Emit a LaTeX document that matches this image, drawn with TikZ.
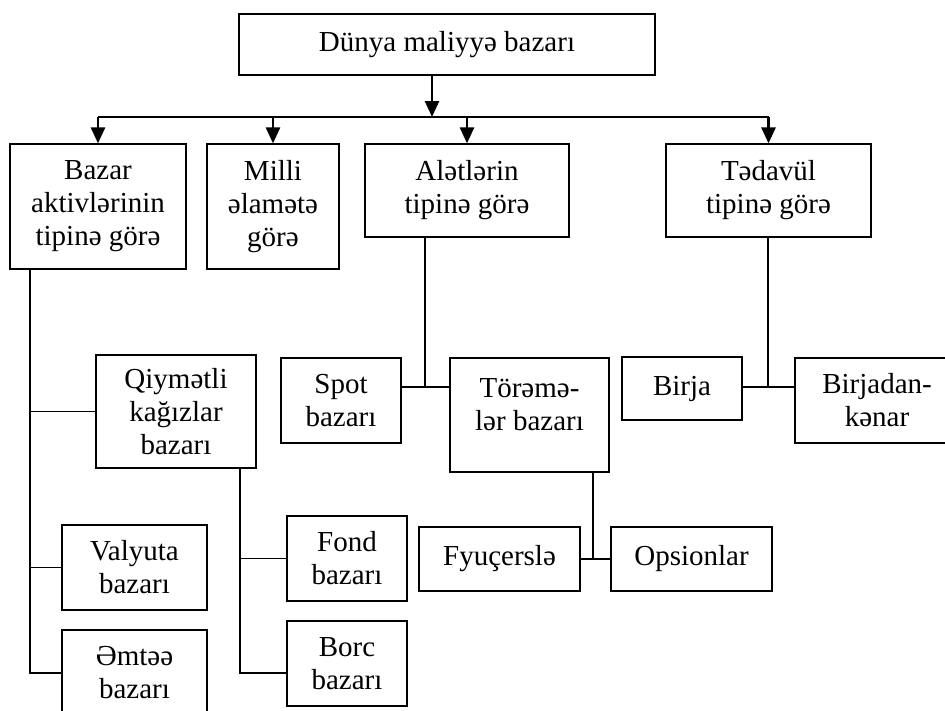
\documentclass[tikz,border=0pt]{standalone}
\usepackage{fontspec}
\setmainfont{Liberation Serif}
\usetikzlibrary{arrows.meta}

\begin{document}
\begin{tikzpicture}[x=1pt, y=-1pt,
  txt/.style={font=\fontsize{29}{33}\selectfont, align=center},
  box/.style={draw, txt, line width=1.2pt, inner sep=0pt},
  link/.style={line width=1.6pt},
  arr/.style={line width=2.6pt, -{Triangle[length=16pt, width=14pt]}}]
\useasboundingbox (0,0) rectangle (945,710);
\node[box, minimum width=416pt, minimum height=61pt] (top) at (447,44.5){Dünya maliyyə bazarı};
\node[box, minimum width=176pt, minimum height=125pt] (aktiv) at (98,206.5){Bazar\\aktivlərinin\\tipinə görə};
\node[box, minimum width=132pt, minimum height=125pt] (milli) at (273,206.5){Milli\\əlamətə\\görə};
\node[box, minimum width=204pt, minimum height=93pt] (alet) at (467,190.5){Alətlərin\\tipinə görə};
\node[box, minimum width=205pt, minimum height=93pt] (tedavul) at (768.5,190.5){Tədavül\\tipinə görə};
\coordinate (hub) at (432,117);
\draw[arr] (top.south -| hub) -- (hub);
\draw[line width=2.6pt] (aktiv.north |- hub) -- (tedavul.north |- hub);
\draw[arr] (aktiv.north |- hub) -- (aktiv.north);
\draw[arr] (milli.north |- hub) -- (milli.north);
\draw[arr] (alet.north |- hub) -- (alet.north);
\draw[arr] (tedavul.north |- hub) -- (tedavul.north);
% bazar aktivleri
\node[box, minimum width=160pt, minimum height=113pt] (qiym) at (176,411.5){Qiymətli\\kağızlar\\bazarı};
\node[box, minimum width=145pt, minimum height=85pt] (valyuta) at (134.5,567.5){Valyuta\\bazarı};
\node[box, minimum width=145pt, minimum height=86pt] (emtee) at (134.5,673){Əmtəə\\bazarı};
\coordinate (la) at (30,672);
\draw[link] (aktiv.south -| la) |- (emtee.west);
\draw[link] (qiym.west -| la) -- (qiym.west);
\draw[link] (valyuta.west -| la) -- (valyuta.west);
\node[box, minimum width=120pt, minimum height=85pt] (fond) at (347,558.5){Fond\\bazarı};
\node[box, minimum width=120pt, minimum height=85pt] (borc) at (347,663.5){Borc\\bazarı};
\coordinate (lq) at (240,673);
\draw[link] (qiym.south -| lq) |- (borc.west |- lq);
\draw[link] (fond.west -| lq) -- (fond.west);
% aletler
\node[box, minimum width=120pt, minimum height=85pt] (spot) at (341,400.5){Spot\\bazarı};
\node[box, minimum width=159pt, minimum height=114pt,
  label={[txt, yshift=10.5pt]center:{Törəmə-\\lər bazarı}}] (torem) at (529.5,415){};
\coordinate (ja) at (425,387);
\draw[link] (alet.south -| ja) -- (ja);
\draw[link] (spot.east |- ja) -- (torem.west |- ja);
\node[box, minimum width=161pt, minimum height=64pt] (fyucer) at (499.5,559){Fyuçerslə};
\node[box, minimum width=161pt, minimum height=64pt] (opsion) at (691.5,559){Opsionlar};
\coordinate (jf) at (593,559);
\draw[link] (torem.south -| jf) -- (jf);
\draw[link] (fyucer.east) -- (opsion.west);
% tedavul
\node[box, minimum width=120pt, minimum height=63pt] (birja) at (682,388.5){Birja};
\node[box, minimum width=164pt, minimum height=85pt] (kenar) at (877,400.5){Birjadan-\\kənar};
\coordinate (jt) at (768,387);
\draw[link] (tedavul.south -| jt) -- (jt);
\draw[link] (birja.east |- jt) -- (kenar.west |- jt);
\end{tikzpicture}
\end{document}
